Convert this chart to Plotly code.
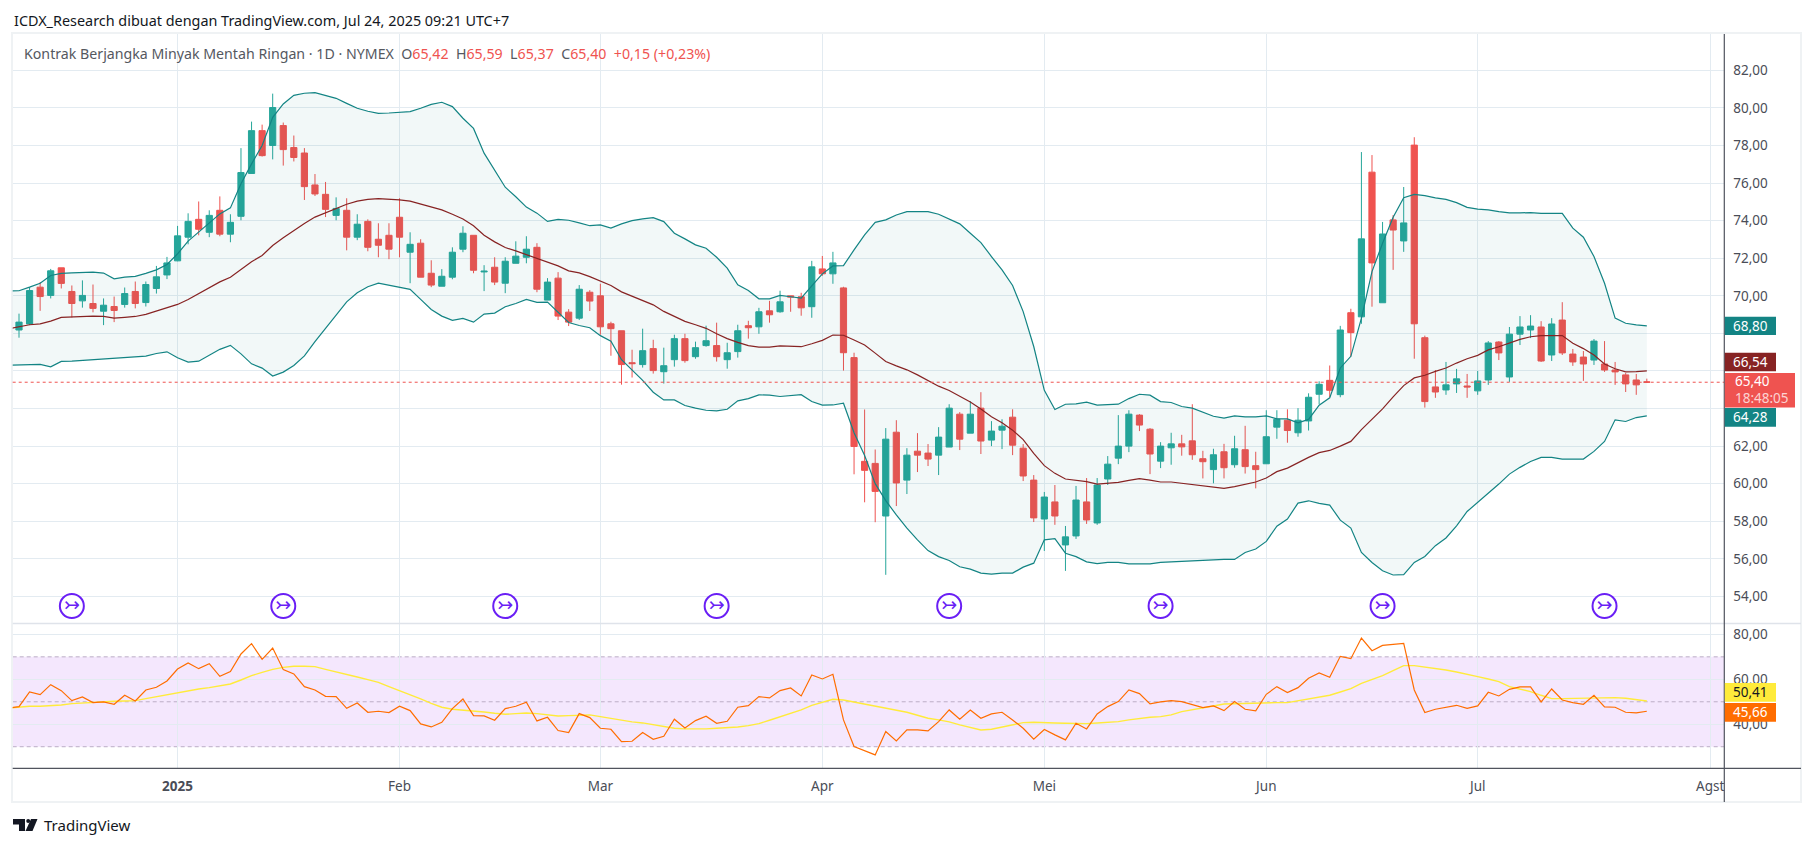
import plotly.graph_objects as go

W, H = 1814, 847

opens = [68.18,68.50,70.46,70.02,71.49,70.23,69.73,69.59,69.18,69.43,69.54,70.23,69.64,70.39,71.11,71.86,73.12,74.07,73.38,74.55,
73.28,74.23,76.51,78.79,78.00,79.06,77.89,77.60,75.90,75.40,74.28,74.55,73.12,73.96,73.01,73.22,74.18,72.32,72.80,71.20,
70.51,70.99,72.48,73.22,71.27,71.52,70.67,71.73,72.05,72.58,69.77,70.94,69.13,68.81,70.19,70.00,68.51,68.14,66.44,66.34,
67.19,65.96,66.60,67.72,66.76,67.35,67.35,66.60,67.03,68.41,68.35,69.20,69.15,70.00,69.95,69.42,71.43,71.17,70.42,66.71,
61.19,61.08,58.28,62.74,60.19,61.73,61.63,61.52,61.95,63.70,62.69,64.02,62.32,62.85,63.54,61.89,60.19,58.12,59.03,56.74,
57.22,59.03,57.91,60.25,61.36,62.00,63.65,62.90,61.20,61.91,62.12,62.28,61.33,60.75,61.70,61.01,61.81,60.96,61.06,63.01,
63.38,62.71,63.34,64.76,65.50,64.74,69.10,68.88,76.58,69.63,74.04,72.92,78.02,67.77,65.15,64.99,65.31,65.20,64.94,65.52,
67.54,65.68,67.96,68.18,68.34,66.85,68.71,66.90,66.74,66.58,66.37,66.05,65.79,65.52,65.42]
highs = [69.05,70.46,70.73,71.43,71.49,70.55,70.82,70.60,69.86,69.96,70.44,70.76,70.76,71.59,72.07,73.72,74.39,75.02,74.55,75.29,
74.34,77.86,79.27,79.11,80.76,79.22,78.53,77.86,76.48,76.06,75.24,75.19,74.34,74.07,73.86,73.86,75.19,73.38,73.01,71.89,
71.42,72.58,73.70,73.22,71.63,72.05,72.05,72.90,73.17,72.80,70.94,71.26,69.29,70.57,70.30,70.64,68.62,68.14,67.13,68.25,
67.66,67.24,67.93,67.98,67.56,68.41,68.57,67.50,68.46,68.67,69.36,69.73,70.27,70.00,70.16,71.86,72.12,72.34,70.48,66.97,
63.95,61.82,62.96,63.38,61.89,62.69,62.11,63.01,64.23,63.81,64.39,64.87,63.33,63.43,63.96,62.11,60.46,59.56,59.93,57.75,
59.88,60.30,60.30,61.47,63.65,63.91,63.70,62.96,62.21,62.71,62.60,64.23,61.75,61.86,62.12,62.55,63.08,61.70,63.91,63.91,
63.96,64.02,64.81,65.45,66.29,68.40,69.31,77.65,77.49,73.93,74.30,75.79,78.44,67.88,66.05,66.48,66.11,65.84,66.00,67.59,
67.59,68.34,68.92,68.97,68.65,68.81,69.66,67.17,67.06,67.70,67.59,66.48,65.89,65.84,65.59]
lows = [67.77,68.44,69.20,69.86,70.39,68.85,69.37,69.12,68.44,68.60,69.37,69.33,69.43,70.12,70.89,71.84,72.74,73.22,73.12,73.17,
72.85,74.02,76.51,77.41,77.26,76.93,77.15,75.10,75.31,74.19,74.02,72.42,72.96,72.37,72.05,71.95,72.05,70.67,70.99,70.46,
70.51,70.88,72.32,71.20,70.25,70.57,70.14,71.73,71.73,70.19,69.77,68.71,68.39,68.71,69.19,67.93,66.81,65.27,65.65,66.18,
65.86,65.33,66.23,66.44,66.65,67.29,66.50,66.12,66.71,67.72,67.98,68.57,69.10,69.15,68.94,68.83,71.06,70.64,66.02,60.50,
59.01,57.95,55.15,58.81,59.45,60.62,60.94,60.46,61.95,61.79,62.69,61.58,62.00,61.84,61.52,60.14,57.96,56.42,57.81,55.36,
57.06,57.86,57.81,59.93,61.04,61.68,62.80,60.51,60.83,61.01,61.49,61.27,60.28,60.02,60.28,60.85,60.54,59.75,61.06,62.39,
62.18,62.50,62.83,64.23,64.60,64.60,66.76,68.51,69.42,69.63,71.38,72.34,66.65,64.05,64.57,64.73,64.83,64.57,64.73,65.26,
66.58,65.42,67.38,67.75,66.48,66.53,66.85,66.27,65.47,66.32,65.95,65.26,64.88,64.73,65.37]
closes = [68.60,70.28,69.96,71.33,70.66,69.59,70.02,69.33,69.50,69.22,70.12,69.59,70.60,71.01,71.75,73.19,73.96,73.54,74.28,73.28,
73.91,76.56,78.79,77.46,80.02,77.78,77.36,75.81,75.42,74.60,74.65,73.12,73.81,72.58,72.69,72.48,73.12,72.74,70.99,70.57,
71.04,72.32,73.33,71.36,71.31,70.73,71.84,72.11,72.48,70.35,70.73,68.92,68.60,70.35,69.72,68.35,68.25,66.34,66.39,67.08,
66.02,66.28,67.72,66.55,67.24,67.61,66.76,66.97,68.14,68.30,69.15,68.99,69.68,69.93,69.36,71.54,71.17,71.75,66.97,61.98,
60.71,59.59,62.37,60.04,61.52,61.52,61.31,62.48,64.02,62.37,63.70,62.27,62.80,63.06,62.05,60.41,58.18,59.29,58.28,57.17,
59.13,58.07,59.93,61.04,62.00,63.70,63.12,61.58,62.00,62.12,61.96,61.54,61.17,61.54,60.85,61.86,60.91,60.75,62.50,63.43,
62.83,63.38,64.60,65.29,64.97,68.18,68.04,73.03,71.75,73.29,73.50,73.88,68.51,64.37,64.88,65.26,65.58,65.15,65.47,67.49,
66.96,67.96,68.34,68.39,66.53,68.50,66.96,66.48,66.37,67.59,66.05,65.95,65.31,65.26,65.40]
# The indicator lines start one bar before the first visible candle, at the left edge of the pane.
bb_upper = [70.25,70.27,70.46,70.67,71.08,71.19,71.22,71.26,71.26,71.21,70.90,70.99,71.03,71.19,71.38,71.67,72.23,72.91,73.39,73.92,74.36,
74.68,75.96,77.02,78.00,79.50,80.21,80.67,80.78,80.81,80.65,80.51,80.24,79.98,79.82,79.71,79.73,79.75,79.80,79.98,80.19,
80.30,80.07,79.45,78.91,77.59,76.70,75.78,75.27,74.72,74.40,73.96,74.07,74.02,73.88,73.73,73.77,73.60,73.83,74.00,74.09,
74.16,73.95,73.33,73.03,72.71,72.53,72.05,71.47,70.58,70.28,69.84,69.84,70.02,69.95,69.88,70.53,71.17,71.59,71.61,72.44,
73.24,73.91,74.04,74.30,74.48,74.48,74.48,74.34,74.09,73.83,73.33,72.83,72.09,71.38,70.55,69.16,67.30,64.97,63.95,64.23,
64.25,64.34,64.18,64.21,64.23,64.53,64.76,64.71,64.37,64.32,64.11,64.02,63.81,63.59,63.49,63.61,63.56,63.56,63.61,63.45,
63.45,63.24,63.42,64.18,64.57,66.16,66.78,68.81,71.29,72.80,74.18,75.22,75.40,75.33,75.21,75.13,74.96,74.71,74.61,74.57,
74.48,74.41,74.41,74.43,74.39,74.38,74.39,73.60,73.12,72.09,70.67,68.81,68.54,68.45,68.40]
bb_basis = [68.24,68.37,68.46,68.51,68.65,68.85,68.88,68.92,68.92,68.90,68.81,68.85,68.90,69.01,69.18,69.36,69.54,69.80,70.11,70.46,70.74,
70.99,71.38,71.81,72.15,72.68,73.09,73.48,73.85,74.19,74.41,74.64,74.87,75.04,75.13,75.17,75.15,75.10,75.04,74.87,74.71,
74.57,74.34,74.09,73.73,73.22,72.87,72.57,72.39,72.18,71.98,71.77,71.59,71.33,71.22,71.02,70.80,70.55,70.21,69.98,69.79,
69.52,69.17,68.90,68.64,68.46,68.27,67.98,67.72,67.52,67.35,67.27,67.27,67.33,67.31,67.29,67.45,67.63,67.91,67.90,67.65,
67.38,66.95,66.50,66.27,66.06,65.79,65.48,65.19,64.96,64.67,64.35,63.98,63.56,63.24,62.85,62.35,61.61,60.96,60.55,60.25,
60.19,60.11,59.98,60.02,60.07,60.18,60.27,60.19,60.09,60.09,60.02,59.98,59.89,59.80,59.75,59.84,59.98,60.09,60.30,60.64,
60.83,61.13,61.40,61.65,61.77,62.00,62.25,62.88,63.42,63.98,64.62,65.22,65.63,65.77,65.98,66.16,66.42,66.65,66.83,67.12,
67.29,67.50,67.68,67.82,67.88,67.88,67.88,67.47,67.19,66.85,66.37,66.12,65.95,65.96,66.00]
bb_lower = [66.30,66.31,66.33,66.35,66.22,66.51,66.52,66.56,66.58,66.60,66.67,66.70,66.74,66.79,66.93,67.02,66.70,66.47,66.52,66.83,67.15,
67.36,66.91,66.38,66.15,65.73,65.94,66.29,66.80,67.56,68.27,68.97,69.68,70.16,70.48,70.67,70.57,70.46,70.34,69.81,69.27,
68.92,68.69,68.80,68.60,69.03,69.08,69.42,69.59,69.81,69.65,69.66,69.10,68.58,68.42,68.30,67.88,67.58,66.60,66.04,65.50,
64.87,64.46,64.46,64.16,64.02,63.91,63.88,63.96,64.41,64.53,64.73,64.71,64.64,64.69,64.74,64.37,64.18,64.19,64.28,62.71,
61.50,60.00,59.10,58.34,57.63,57.01,56.44,56.12,55.91,55.58,55.45,55.24,55.19,55.24,55.24,55.56,55.77,57.01,57.08,56.30,
56.12,55.84,55.75,55.81,55.81,55.73,55.72,55.73,55.81,55.84,55.88,55.90,55.92,55.95,55.97,55.97,56.34,56.52,56.93,57.74,
58.12,58.97,59.09,58.95,58.86,58.06,57.64,56.34,55.81,55.37,55.14,55.16,55.81,56.13,56.70,57.11,57.76,58.52,59.00,59.45,
59.98,60.51,60.87,61.18,61.40,61.40,61.31,61.31,61.31,61.72,62.25,63.40,63.31,63.52,63.61]
rsi = [47.20,47.85,54.37,53.19,57.63,54.96,50.52,52.15,49.63,49.93,48.89,52.89,50.37,55.26,56.44,59.26,64.59,67.26,64.74,66.96,61.33,
63.41,71.26,75.85,68.89,73.93,64.30,62.37,56.74,55.26,52.44,52.30,47.11,49.48,45.33,45.78,45.19,48.00,46.07,40.15,38.81,
40.89,46.96,51.26,43.85,43.70,41.78,46.96,48.00,49.78,41.48,43.11,37.19,36.30,44.74,42.96,38.22,37.78,32.30,32.44,36.30,
33.33,34.67,42.22,38.37,41.63,43.56,40.44,41.33,47.56,48.30,52.30,51.70,54.96,56.15,52.59,61.93,60.15,62.22,41.93,30.07,
28.15,26.37,36.74,32.59,37.48,37.48,37.04,41.19,46.37,42.22,46.37,42.67,44.59,45.33,41.93,38.22,33.33,37.63,35.26,33.04,
40.44,37.93,44.59,47.85,50.07,55.26,53.63,49.04,49.93,50.52,50.07,48.59,47.41,48.15,46.07,50.07,46.67,45.93,53.33,56.74,
54.07,56.30,60.44,62.81,60.89,70.22,69.19,78.37,72.74,75.11,75.56,76.00,55.26,45.19,46.67,47.56,48.44,47.11,48.15,54.22,
52.59,55.56,56.59,56.59,49.93,55.70,50.81,49.63,48.89,52.89,47.70,47.56,45.33,45.04,45.78]
rsi_ma = [47.20,47.56,48.00,48.00,48.15,48.59,49.19,49.48,49.93,50.22,50.22,50.37,50.52,51.41,52.30,53.19,54.07,55.11,55.70,56.30,57.19,
57.93,59.70,61.63,63.11,64.44,65.33,65.78,65.78,65.63,64.44,63.41,62.22,61.04,59.85,58.67,56.74,54.96,53.33,51.26,49.33,
47.56,46.67,46.37,46.07,45.48,44.89,44.44,44.74,45.04,44.74,44.15,43.70,43.85,44.15,44.15,43.41,42.52,41.78,41.04,40.59,
39.70,38.81,38.22,37.93,37.78,37.93,38.22,38.37,38.81,39.41,40.30,41.78,43.41,44.74,46.37,48.44,49.78,51.11,50.81,49.93,
49.04,48.00,47.41,46.37,45.33,44.00,42.67,41.93,41.04,39.70,38.52,37.48,37.78,38.81,39.85,40.74,40.89,40.89,40.59,40.44,
40.30,40.30,40.59,40.89,41.19,41.93,42.67,43.11,43.41,44.15,45.63,46.37,47.11,48.15,49.04,49.19,49.48,49.63,49.63,49.63,
49.63,50.37,51.11,52.00,52.89,54.37,55.85,58.22,60.00,61.63,63.85,66.07,66.07,65.48,64.74,64.15,63.26,62.37,61.19,60.15,
58.96,56.74,55.56,54.52,52.89,51.41,51.41,51.56,51.70,51.85,52.00,51.85,51.56,50.96,50.37]
x_idx = list(range(len(closes)))
x_ind = [-1] + x_idx

month_ticks = [15, 36, 55, 76, 97, 118, 138, 160]
month_labels = ["<b>2025</b>", "Feb", "Mar", "Apr", "Mei", "Jun", "Jul", "Agst"]
price_ticks = [54, 56, 58, 60, 62, 64, 66, 68, 70, 72, 74, 76, 78, 80, 82]
price_hidden = [64, 66, 68]  # these scale labels sit behind the value tags in the chart
rsi_ticks = [40, 60, 80]
event_idx = [5, 25, 46, 66, 88, 108, 129, 150]
event_level = [53.49] * len(event_idx)

TEAL = "#26a69a"; RED = "#ef5350"; BAND = "#138484"; BASIS = "#872323"
GRID = "#e3ebf1"; TXT = "#4a4d57"; FONT = "Noto Sans"; AX = 13.5

def px(x): return x / W
def py(y): return 1 - y / H
def comma(v): return f"{v:.2f}".replace(".", ",")

fig = go.Figure()
fig.add_trace(go.Scatter(x=x_ind, y=bb_upper, mode="lines", line=dict(color=BAND, width=1.2), hoverinfo="skip"))
fig.add_trace(go.Scatter(x=x_ind, y=bb_lower, mode="lines", line=dict(color=BAND, width=1.2), hoverinfo="skip",
                         fill="tonexty", fillcolor="rgba(19,132,132,0.055)"))
fig.add_trace(go.Scatter(x=x_ind, y=bb_basis, mode="lines", line=dict(color=BASIS, width=1.2), hoverinfo="skip"))
fig.add_trace(go.Candlestick(x=x_idx, open=opens, high=highs, low=lows, close=closes, whiskerwidth=0,
                             increasing=dict(line=dict(color=TEAL, width=1), fillcolor=TEAL),
                             decreasing=dict(line=dict(color=RED, width=1), fillcolor=RED)))
fig.add_trace(go.Scatter(x=event_idx, y=event_level, mode="markers+text", text=["↣"] * len(event_idx),
                         textfont=dict(color="#6a1ff5", size=19, family="DejaVu Sans"), textposition="middle center",
                         marker=dict(size=24, color="white", line=dict(color="#6a1ff5", width=2)), hoverinfo="skip"))
fig.add_trace(go.Scatter(x=x_ind, y=rsi_ma, yaxis="y2", mode="lines", line=dict(color="#ffeb3b", width=1.4), hoverinfo="skip"))
fig.add_trace(go.Scatter(x=x_ind, y=rsi, yaxis="y2", mode="lines", line=dict(color="#ff6d00", width=1.2), hoverinfo="skip"))

shapes = [
    dict(type="rect", xref="paper", yref="y2", x0=px(12.7), x1=px(1724), y0=30, y1=70, layer="below",
         fillcolor="rgba(170,70,240,0.13)", line_width=0),
]
for lvl in (30, 50, 70):
    shapes.append(dict(type="line", xref="paper", yref="y2", x0=px(12.7), x1=px(1724), y0=lvl, y1=lvl, layer="below",
                       line=dict(color="#bcaec6", width=1, dash="4px,3px")))
shapes.append(dict(type="line", xref="paper", yref="y", x0=px(12.7), x1=px(1724), y0=closes[-1], y1=closes[-1],
                   line=dict(color=RED, width=1, dash="dot")))
shapes += [
    dict(type="rect", xref="paper", yref="paper", x0=px(12), x1=px(1801), y0=py(33), y1=py(802),
         line=dict(color="#eff2f4", width=2), layer="below"),
    dict(type="line", xref="paper", yref="paper", x0=px(12.7), x1=px(1801), y0=py(623.5), y1=py(623.5),
         line=dict(color="#dfe3ea", width=1.5)),
    dict(type="line", xref="paper", yref="paper", x0=px(12.7), x1=px(1801), y0=py(768.3), y1=py(768.3),
         line=dict(color="#50535e", width=1.2)),
    dict(type="line", xref="paper", yref="paper", x0=px(1724.3), x1=px(1724.3), y0=py(34), y1=py(802),
         line=dict(color="#50535e", width=1.2)),
]

annos = []
def label(text, y0, y1, bg, color="white", x1=1776):
    shapes.append(dict(type="rect", xref="paper", yref="paper", x0=px(1724.8), x1=px(x1), y0=py(y0), y1=py(y1),
                       fillcolor=bg, line_width=0))
    annos.append(dict(xref="paper", yref="paper", x=px(1750), y=py((y0 + y1) / 2), text=text, showarrow=False,
                      font=dict(color=color, size=AX, family=FONT), xanchor="center", yanchor="middle"))

label("68,80", 316.7, 335, "#138484")
label("66,54", 352.7, 371.3, "#872323")
shapes.append(dict(type="rect", xref="paper", yref="paper", x0=px(1724.8), x1=px(1795), y0=py(373), y1=py(407.5),
                   fillcolor=RED, line_width=0))
annos.append(dict(xref="paper", yref="paper", x=px(1733), y=py(381.5), text="65,40", showarrow=False, xanchor="left", yanchor="middle",
                  font=dict(color="white", size=AX, family=FONT)))
annos.append(dict(xref="paper", yref="paper", x=px(1733), y=py(397.5), text="18:48:05", showarrow=False, xanchor="left", yanchor="middle",
                  font=dict(color="#fcd3d2", size=AX, family=FONT)))
label("64,28", 408, 426.7, "#138484")
label("50,41", 683, 701.7, "#ffeb3b", color="#131722")
label("45,66", 703, 721.7, "#ff6d00")

annos.append(dict(xref="paper", yref="paper", x=px(12), y=py(20), xanchor="left", yanchor="middle", showarrow=False,
                  text="ICDX_Research dibuat dengan TradingView.com, Jul 24, 2025 09:21 UTC+7",
                  font=dict(color="#131722", size=14.4, family=FONT)))
R = '<span style="color:#ef5350">'
annos.append(dict(xref="paper", yref="paper", x=px(21.5), y=py(53.5), xanchor="left", yanchor="middle", showarrow=False,
                  text=f"Kontrak Berjangka Minyak Mentah Ringan · 1D · NYMEX  O{R}65,42</span>  H{R}65,59</span>  L{R}65,37</span>  C{R}65,40</span>  {R}+0,15 (+0,23%)</span>",
                  font=dict(color="#55585f", size=14.2, family=FONT)))
annos.append(dict(xref="paper", yref="paper", x=px(42), y=py(825), xanchor="left", yanchor="middle", showarrow=False,
                  text="TradingView", font=dict(color="#131722", size=15, family=FONT)))

def logo_path(pts):
    return "M" + " L".join(f"{px(x):.5f},{py(y):.5f}" for x, y in pts) + " Z"
for pts in ([(13, 819), (25, 819), (25, 831), (19, 831), (19, 824.5), (13, 824.5)],
            [(31, 819), (37.5, 819), (32.5, 831), (25.5, 831)]):
    shapes.append(dict(type="path", xref="paper", yref="paper", path=logo_path(pts), fillcolor="#131722", line_width=0))
shapes.append(dict(type="circle", xref="paper", yref="paper", x0=px(26.2), x1=px(30.2), y0=py(819), y1=py(823),
                   fillcolor="#131722", line_width=0))

fig.update_layout(
    width=W, height=H, autosize=False, margin=dict(l=0, r=0, t=0, b=0), showlegend=False,
    paper_bgcolor="white", plot_bgcolor="white", boxgap=0.35, boxgroupgap=0.1, hovermode=False, shapes=shapes, annotations=annos,
    font=dict(family=FONT, color=TXT, size=AX),
    xaxis=dict(domain=[px(12.7), px(1724.3)], range=[-0.596, 161.33], anchor="y2", tickvals=month_ticks, ticktext=month_labels,
               showgrid=True, gridcolor=GRID, gridwidth=1, zeroline=False, showline=False, ticks="", rangeslider=dict(visible=False),
               tickfont=dict(size=AX, color=TXT, family=FONT), ticklabelstandoff=8),
    yaxis=dict(domain=[py(623.3), py(33.5)], range=[52.57, 83.96], side="right", tickvals=price_ticks,
               ticktext=["" if v in price_hidden else comma(v) for v in price_ticks], showgrid=True, gridcolor=GRID, gridwidth=1,
               zeroline=False, ticks="", ticklabelstandoff=8, tickfont=dict(size=AX, color=TXT, family=FONT), anchor="x"),
    yaxis2=dict(domain=[py(768.3), py(623.8)], range=[20.4, 84.7], side="right", tickvals=rsi_ticks,
                ticktext=[comma(v) for v in rsi_ticks], showgrid=True, gridcolor=GRID, gridwidth=1, zeroline=False,
                ticks="", ticklabelstandoff=8, tickfont=dict(size=AX, color=TXT, family=FONT), anchor="x"),
)
fig.write_html("out.html", config={"displayModeBar": False},
               post_script="document.body.style.margin='0';document.body.style.overflow='hidden';")
